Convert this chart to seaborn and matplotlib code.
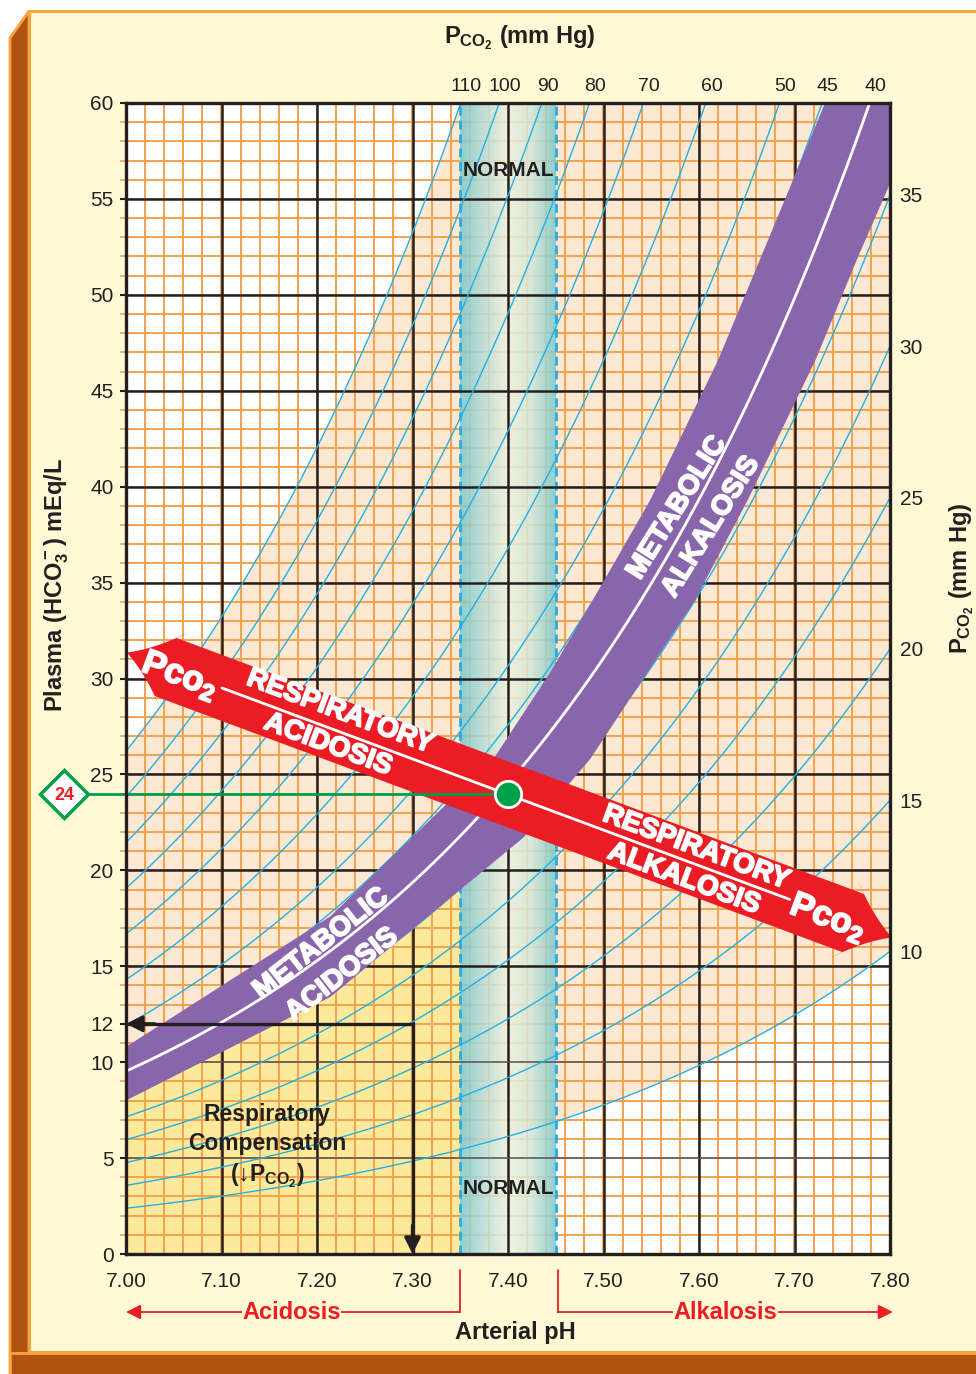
import numpy as np
import pandas as pd
import seaborn as sns
import matplotlib
matplotlib.use('Agg')
import matplotlib.pyplot as plt
import matplotlib.patheffects as pe
from matplotlib.patches import Polygon, Rectangle
from matplotlib.colors import LinearSegmentedColormap

# ---- values ----
ph_ticks = [7.00, 7.10, 7.20, 7.30, 7.40, 7.50, 7.60, 7.70, 7.80]
ph_labels = ['7.00', '7.10', '7.20', '7.30', '7.40', '7.50', '7.60', '7.70', '7.80']
hco3_ticks = [0, 5, 10, 12, 15, 20, 25, 30, 35, 40, 45, 50, 55, 60]

pco2_isobars = [10, 15, 20, 25, 30, 35, 45, 50, 60, 70, 80, 90, 100, 110]
pco2_normal = 40
pco2_top = [110, 100, 90, 80, 70, 60, 50, 45, 40]
pco2_right = [35, 30, 25, 20, 15, 10]

normal_ph = [7.35, 7.45]
normal_point = [7.40, 24]

# metabolic band outline (pH, HCO3)
band_upper_ph = [7.000, 7.214, 7.318, 7.386, 7.444, 7.489, 7.549, 7.620, 7.732]
band_upper_hco3 = [10.8, 17.6, 22.6, 25.9, 30.3, 34.1, 39.3, 46.6, 60.0]
band_lower_ph = [7.000, 7.214, 7.416, 7.486, 7.596, 7.651, 7.722, 7.765, 7.800, 7.837]
band_lower_hco3 = [8.0, 13.4, 21.7, 25.8, 34.1, 39.3, 46.6, 51.8, 55.8, 60.0]

# yellow respiratory compensation zone (top edge, hidden under the band)
comp_ph = [7.00, 7.214, 7.35]
comp_top = [9.4, 15.5, 21.0]

# respiratory arrow tips (pH, HCO3)
resp_ph = [7.001, 7.802]
resp_hco3 = [31.35, 16.5]

# compensation example: HCO3 12 -> pH 7.30
example = [7.30, 12]

# Henderson-Hasselbalch, the printed chart drifts slightly at high pH
PK = 6.1
SOL = 0.03
DRIFT = 0.026


def hco3_at(ph, pco2):
    return SOL * pco2 * 10 ** (ph - PK + DRIFT * (ph - 7.0))


def ph_at(hco3, pco2):
    return (np.log10(hco3 / (SOL * pco2)) + PK + DRIFT * 7.0) / (1 + DRIFT)


ink = '#231f20'
orange = '#f4a24d'
peach = '#fde8d4'
yellow = '#fde99a'
cyan = '#22b0e4'
purple = '#8966ab'
red = '#ec1c24'
green = '#00a04b'
panel = '#fff9d5'

sns.set_style('white')
plt.rcParams['font.family'] = ['Liberation Sans', 'DejaVu Sans']
plt.rcParams['mathtext.fontset'] = 'custom'
plt.rcParams['mathtext.rm'] = 'Liberation Sans:bold'
plt.rcParams['mathtext.it'] = 'Liberation Sans:bold'
plt.rcParams['mathtext.bf'] = 'Liberation Sans:bold'

fig = plt.figure(figsize=(9.76, 13.74), dpi=100)
fig.patch.set_facecolor('white')

# framed card behind the chart
bg = fig.add_axes([0, 0, 1, 1], zorder=-10)
bg.set_xlim(0, 976)
bg.set_ylim(1374, 0)
bg.axis('off')
bg.add_patch(Rectangle((29, 11), 960, 1341, facecolor=panel, edgecolor='#f8a43c', lw=2.2))
bg.add_patch(Polygon([(10, 38), (29, 11), (29, 1380), (10, 1380)], facecolor='#b05312',
                     edgecolor='#f8a43c', lw=2))
bg.add_patch(Rectangle((10, 1353), 980, 30, facecolor='#b05312', edgecolor='#f8a43c', lw=2))

ax = fig.add_axes([126 / 976, 120 / 1374, 764 / 976, 1151 / 1374])
ax.set_facecolor('white')

ph_grid = np.linspace(7.0, 7.8, 321)

# shaded zones
ax.fill_between(ph_grid, hco3_at(ph_grid, 10), hco3_at(ph_grid, 110), color=peach, lw=0, zorder=0.5)
ax.fill_between(comp_ph, 0, comp_top, color=yellow, lw=0, zorder=0.6)

# graph paper
ax.vlines(np.arange(7.0, 7.801, 0.02), 0, 60, color=orange, lw=1.4, zorder=1)
ax.hlines(np.arange(0, 61, 1), 7.0, 7.8, color=orange, lw=1.4, zorder=1)
ax.vlines(ph_ticks, 0, 60, color=ink, lw=1.8, zorder=1.7)
ax.hlines(np.arange(15, 60, 5), 7.0, 7.8, color=ink, lw=1.8, zorder=1.7)
ax.hlines([5, 10], 7.0, 7.8, color='#555555', lw=1.1, zorder=1.7)

# normal pH band
cmap = LinearSegmentedColormap.from_list(
    'normal', ['#7cc8ca', '#b9ddd6', '#eef2de', '#d2e7d8', '#7cc8ca'])
ax.imshow(np.linspace(0, 1, 256)[None, :], extent=[normal_ph[0], normal_ph[1], 0, 60],
          aspect='auto', cmap=cmap, alpha=0.86, zorder=1.4, interpolation='bicubic')
ax.vlines(normal_ph, 0, 60, color='#29abe2', lw=2, linestyles=(0, (3.2, 1.8)), zorder=1.6)

# PCO2 isobars
iso = pd.DataFrame([(p, x, hco3_at(x, p)) for p in pco2_isobars for x in ph_grid],
                   columns=['pco2', 'ph', 'hco3'])
sns.lineplot(data=iso, x='ph', y='hco3', units='pco2', estimator=None, color=cyan,
             lw=1.0, ax=ax, legend=False, zorder=2)

# metabolic band with the PCO2 40 line
ax.fill(np.r_[band_upper_ph, band_lower_ph[::-1]], np.r_[band_upper_hco3, band_lower_hco3[::-1]],
        color=purple, lw=0, zorder=3)
ax.plot(ph_grid, hco3_at(ph_grid, pco2_normal), color='white', lw=2, zorder=3.5)

ax.set_xlim(7.0, 7.8)
ax.set_ylim(0, 60)
ax.set_xlabel('')
ax.set_ylabel('')


# respiratory double arrow, built in screen space so the heads stay symmetric
def arrow_outline(p0, p1, hw, hl, hh, n=14):
    u = (p1 - p0) / np.linalg.norm(p1 - p0)
    v = np.array([-u[1], u[0]])
    t = np.linspace(0, 1, n)[:, None]

    def head(tip, direction, side):
        ctrl = np.array([0.5 * hl, 0.33 * hh * side])
        barb = np.array([hl, hh * side])
        pts = 2 * (1 - t) * t * ctrl + t ** 2 * barb
        pts = np.vstack([pts, [hl - 11, hw * side]])
        return tip + direction * pts[:, :1] * u + pts[:, 1:] * v

    left_a = head(p0, 1, 1)
    left_b = head(p0, 1, -1)
    right_a = head(p1, -1, 1)
    right_b = head(p1, -1, -1)
    return np.vstack([left_a, right_a[::-1], right_b, left_b[::-1]])


p0 = ax.transData.transform((resp_ph[0], resp_hco3[0]))
p1 = ax.transData.transform((resp_ph[1], resp_hco3[1]))
outline = ax.transData.inverted().transform(arrow_outline(p0, p1, 31, 52, 42))
ax.add_patch(Polygon(outline, closed=True, facecolor=red, edgecolor='none', zorder=4, clip_on=False))
ang = np.degrees(np.arctan2(p1[1] - p0[1], p1[0] - p0[0]))


def on_arrow(ph):
    return np.interp(ph, resp_ph, resp_hco3)


for a, b in [(7.1005, 7.40), (7.40, 7.695)]:
    ax.plot([a, b], [on_arrow(a), on_arrow(b)], color='white', lw=2, zorder=4.5)

heavy = [pe.withStroke(linewidth=1.3, foreground='white')]
arrow_txt = dict(color='white', fontweight='bold', rotation=ang, rotation_mode='anchor',
                 ha='center', va='center', zorder=5, path_effects=heavy)
ax.text(7.2241, 28.26, 'RESPIRATORY', fontsize=20, **arrow_txt)
ax.text(7.2115, 26.54, 'ACIDOSIS', fontsize=20, **arrow_txt)
ax.text(7.5969, 21.17, 'RESPIRATORY', fontsize=20, **arrow_txt)
ax.text(7.5843, 19.55, 'ALKALOSIS', fontsize=20, **arrow_txt)
ax.text(7.0565, 30.14, r'P$\mathregular{co_2}$', fontsize=25, **arrow_txt)
ax.text(7.7351, 17.52, r'P$\mathregular{co_2}$', fontsize=25, **arrow_txt)

band_txt = dict(color='white', fontweight='bold', rotation_mode='anchor',
                ha='center', va='center', zorder=5, path_effects=heavy)
ax.text(7.2042, 16.16, 'METABOLIC', fontsize=20, rotation=38, **band_txt)
ax.text(7.2262, 14.55, 'ACIDOSIS', fontsize=20, rotation=38, **band_txt)
ax.text(7.5770, 38.89, 'METABOLIC', fontsize=20, rotation=58, **band_txt)
ax.text(7.6126, 37.90, 'ALKALOSIS', fontsize=20, rotation=58, **band_txt)

ax.text(7.40, 56.5, 'NORMAL', fontsize=15, fontweight='bold', color=ink, ha='center', va='center', zorder=5)
ax.text(7.40, 3.44, 'NORMAL', fontsize=15, fontweight='bold', color=ink, ha='center', va='center', zorder=5)

comp_txt = dict(fontsize=16.5, fontweight='bold', color=ink, ha='center', va='center', zorder=5)
ax.text(7.1476, 7.25, 'Respiratory', **comp_txt)
ax.text(7.1476, 5.74, 'Compensation', **comp_txt)
ax.text(7.1476, 4.07, r'(↓P$_{\mathrm{CO}_2}$)', **comp_txt)

# compensation example arrows
ax.plot([example[0] - 0.3, example[0], example[0]], [example[1], example[1], 0],
        color=ink, lw=2.4, solid_joinstyle='miter', zorder=4.2)
head = dict(arrowstyle='-|>', color=ink, lw=2.4, mutation_scale=24, shrinkA=0, shrinkB=0)
ax.annotate('', xy=(7.0, example[1]), xytext=(7.03, example[1]), arrowprops=head, zorder=4.3)
ax.annotate('', xy=(example[0], 0), xytext=(example[0], 1.5), arrowprops=head, zorder=4.3)

# normal point, HCO3 24
ax.plot([6.96, normal_point[0]], [normal_point[1]] * 2, color=green, lw=2, clip_on=False, zorder=6)
ax.plot(6.935, normal_point[1], marker='D', ms=24, mfc='white', mec=green, mew=2.5,
        clip_on=False, zorder=7)
ax.text(6.935, normal_point[1] - 0.1, '24', color=red, fontsize=13, fontweight='bold',
        ha='center', va='center', clip_on=False, zorder=8)
ax.plot(*normal_point, marker='o', ms=19, mfc=green, mec='white', mew=2, zorder=8)

# axes, ticks
for s in ax.spines.values():
    s.set_color(ink)
    s.set_linewidth(2.4)
    s.set_zorder(6)
ax.set_xticks(ph_ticks, labels=ph_labels)
ax.set_yticks(hco3_ticks, labels=[str(v) for v in hco3_ticks])
ax.set_yticks(np.arange(0, 61, 1), minor=True)
ax.tick_params(axis='x', bottom=True, length=0, pad=13, labelsize=15, labelcolor=ink)
ax.tick_params(axis='y', left=True, length=4, width=1.5, color=ink, pad=5, labelsize=15, labelcolor=ink)
ax.tick_params(axis='y', which='minor', left=True, length=4, width=1.2, color=orange)

top = ax.secondary_xaxis('top')
top.set_xticks([ph_at(60, p) + 0.006 for p in pco2_top], labels=[str(p) for p in pco2_top])
top.tick_params(length=0, pad=6, labelsize=14, labelcolor=ink)
top.spines['top'].set_visible(False)

right = ax.secondary_yaxis('right')
right.set_yticks([hco3_at(7.8, p) for p in pco2_right], labels=[str(p) for p in pco2_right])
right.tick_params(length=0, pad=7, labelsize=15, labelcolor=ink)
right.spines['right'].set_visible(False)

lab = dict(fontsize=17, fontweight='bold', color=ink, ha='center', va='center')
fig.text(520 / 976, 1 - 38 / 1374, r'P$_{\mathrm{CO}_2}$ (mm Hg)', **lab)
fig.text(962 / 976, 1 - 578 / 1374, r'P$_{\mathrm{CO}_2}$ (mm Hg)', rotation=90, **lab)
fig.text(57 / 976, 1 - 585 / 1374, r'Plasma (HCO$_3^-$) mEq/L', rotation=90, **lab)
fig.text(515 / 976, 1 - 1332 / 1374, 'Arterial pH', **lab)

# acidosis / alkalosis markers under the pH axis
xt = ax.get_xaxis_transform()
y_line = -0.0504
for edge, end, mid, word in [(normal_ph[0], 7.0, 7.1733, 'Acidosis'),
                             (normal_ph[1] + 0.002, 7.803, 7.628, 'Alkalosis')]:
    ax.plot([edge, edge], [-0.014, y_line], color=red, lw=1.3, transform=xt, clip_on=False)
    ax.annotate('', xy=(end, y_line), xytext=(edge, y_line), xycoords=xt, textcoords=xt,
                arrowprops=dict(arrowstyle='-|>', color=red, lw=1.3, mutation_scale=22,
                                shrinkA=0, shrinkB=0), annotation_clip=False)
    ax.text(mid, y_line, word, transform=xt, color=red, fontsize=17, fontweight='bold',
            ha='center', va='center', clip_on=False,
            bbox=dict(facecolor=panel, edgecolor='none', pad=0.5))

fig.savefig('out.png', dpi=100)
